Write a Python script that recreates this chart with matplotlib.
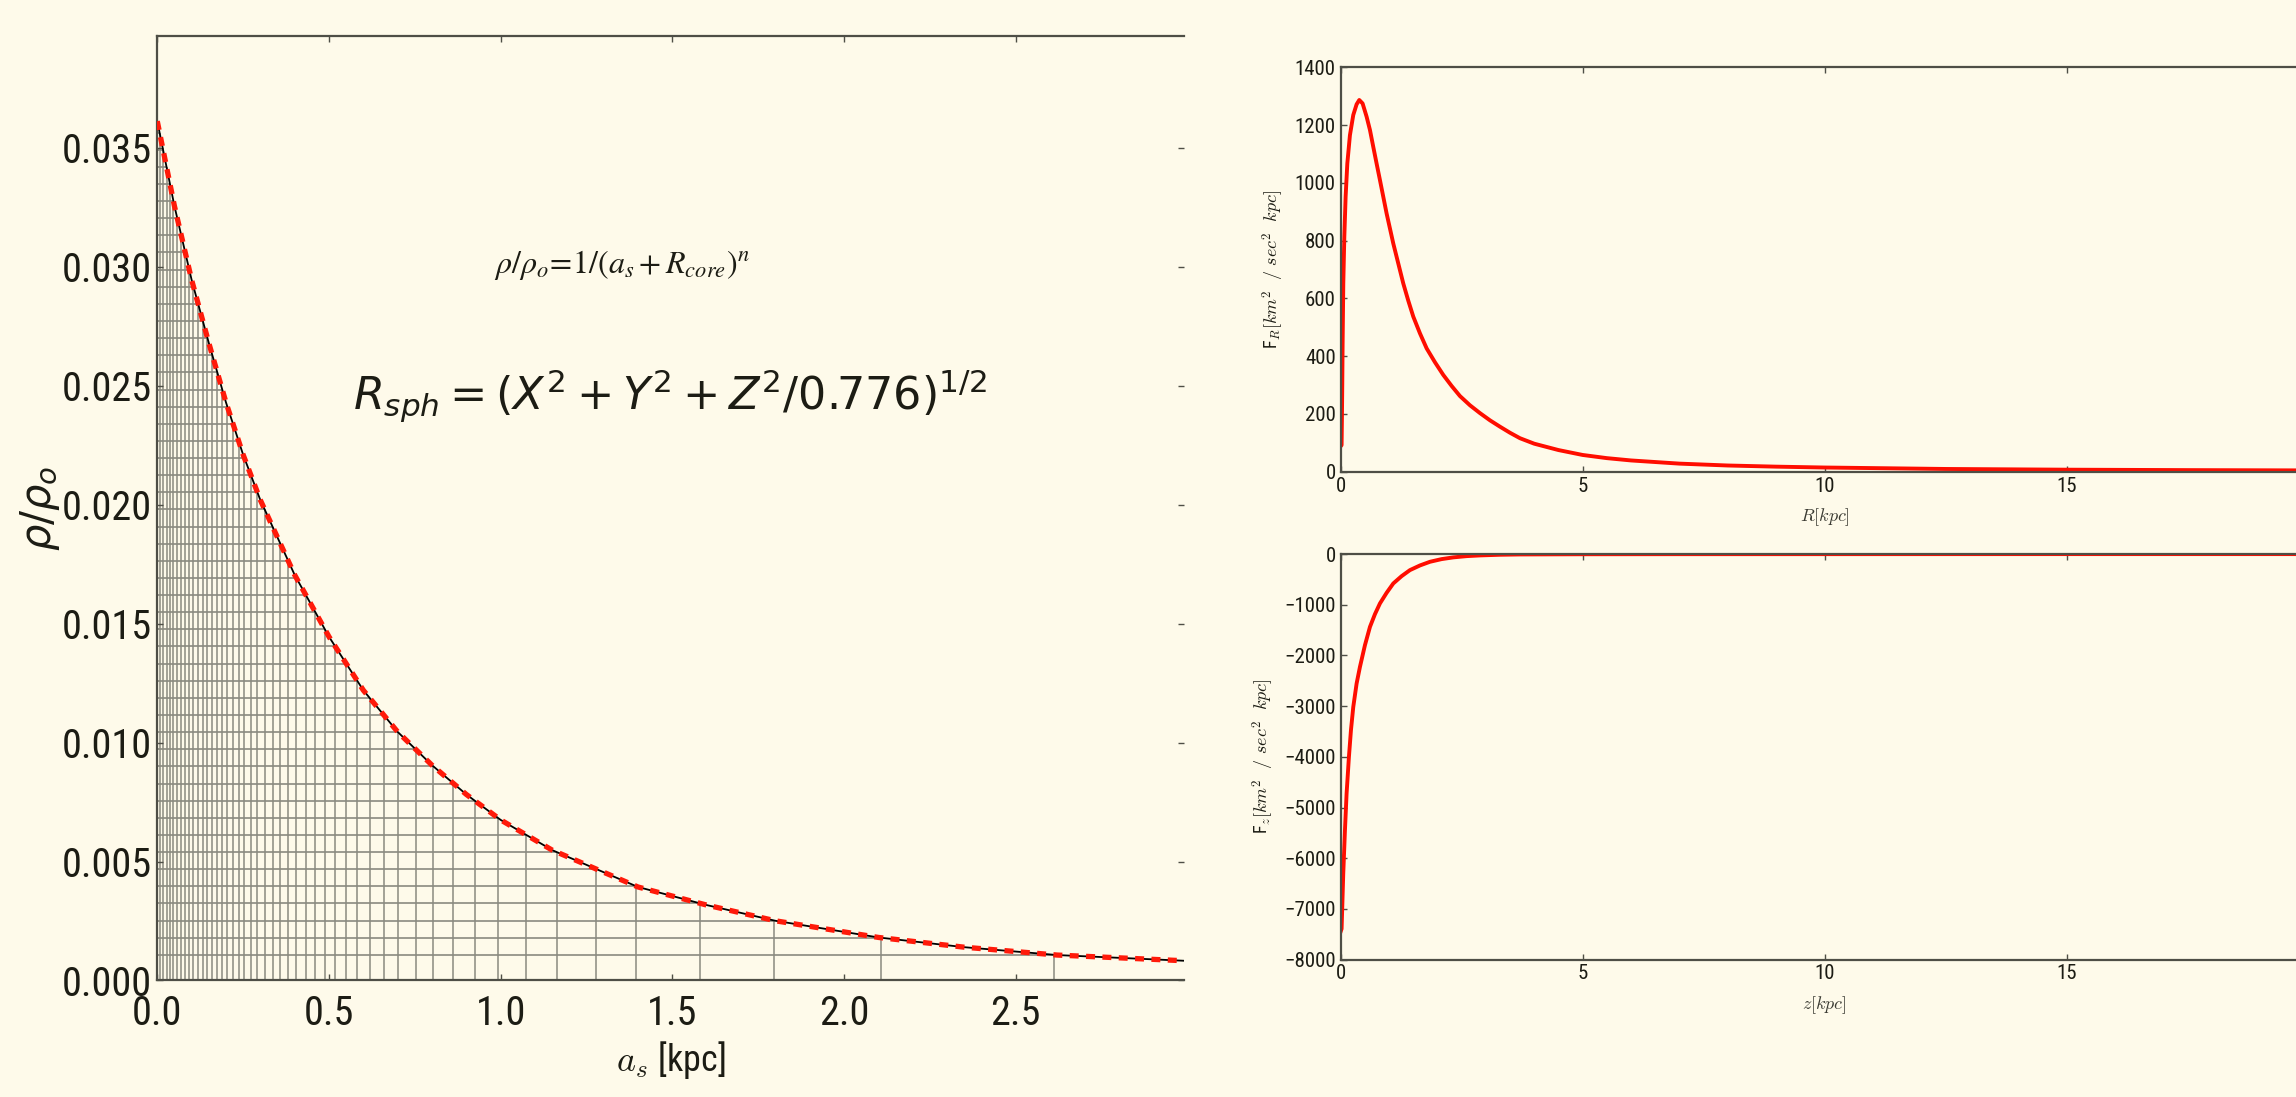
import numpy as np
import matplotlib
matplotlib.use("Agg")
import matplotlib.pyplot as plt
from matplotlib import font_manager as fm

# --- left panel: density profile ---
a_s = [0.00, 0.05, 0.10, 0.15, 0.20, 0.25, 0.30, 0.40, 0.50, 0.60, 0.70,
       0.80, 0.90, 1.00, 1.15, 1.40, 1.60, 1.80, 2.10, 2.35, 2.62, 2.99]
rho = [0.03612, 0.03255, 0.02945, 0.02680, 0.02430, 0.02210, 0.02020,
       0.01705, 0.01445, 0.01220, 0.01045, 0.00905, 0.00782, 0.00675,
       0.00548, 0.00393, 0.00317, 0.00251, 0.00181, 0.00140, 0.00107,
       0.00083]
rho_ticks = [0.000, 0.005, 0.010, 0.015, 0.020, 0.025, 0.030, 0.035]
a_ticks = [0.0, 0.5, 1.0, 1.5, 2.0, 2.5]

# --- right panels: forces ---
R_kpc = [0.0, 0.02, 0.027, 0.034, 0.041, 0.055, 0.076, 0.103, 0.138, 0.192,
         0.261, 0.33, 0.385, 0.454, 0.537, 0.606, 0.674, 0.743, 0.812, 0.881,
         0.95, 1.019, 1.088, 1.191, 1.294, 1.398, 1.501, 1.639, 1.777, 1.949,
         2.121, 2.293, 2.465, 2.672, 2.878, 3.085, 3.291, 3.498, 3.705, 4.0,
         4.5, 5.0, 5.5, 6.0, 7.0, 8.0, 9.0, 10.0, 12.5, 15.0, 17.5, 20.0]
F_R = [88, 92, 190, 306, 444, 652, 813, 952, 1067, 1165,
       1235, 1272, 1287, 1275, 1229, 1183, 1125, 1067, 1010, 952,
       894, 842, 790, 721, 652, 592, 537, 479, 427, 379,
       335, 297, 262, 230, 203, 178, 156, 135, 116, 97,
       75, 58, 47, 39, 28, 21.5, 17.5, 14.5, 9.5, 7, 5.5, 4.5]
z_kpc = [0.0, 0.02, 0.054, 0.089, 0.123, 0.171, 0.213, 0.261, 0.33, 0.399,
         0.502, 0.606, 0.709, 0.812, 0.95, 1.088, 1.26, 1.432, 1.639, 1.845,
         2.086, 2.327, 2.603, 2.878, 3.291, 3.705, 5.0, 7.0, 10.0, 15.0, 20.0]
F_z = [-7450, -7394, -6308, -5452, -4727, -4004, -3477, -3016, -2554, -2226,
       -1798, -1436, -1185, -974, -764, -579, -435, -316, -224, -152,
       -99, -65, -40, -26, -13, -7, -3, -1.5, -1, 0, 0]

BG = "#fefaea"
INK = "#1c1c14"
SPINE = "#4e4e46"
GRID = "#8a8a80"
RED = "#ff0d00"
RHO_STEP = 0.00072


def narrow_font():
    for name in ("Liberation Sans Narrow", "Roboto Condensed", "Open Sans Condensed"):
        try:
            fm.findfont(fm.FontProperties(family=name), fallback_to_default=False)
            return name, "normal"
        except ValueError:
            continue
    return "DejaVu Sans", "condensed"


NARROW, STRETCH = narrow_font()
plt.rcParams["font.family"] = [NARROW, "DejaVu Sans"]
plt.rcParams["font.stretch"] = STRETCH


def style_axes(ax, size):
    ax.set_facecolor(BG)
    for s in ax.spines.values():
        s.set_color(SPINE)
        s.set_linewidth(1.6)
    ax.tick_params(direction="in", top=True, right=True, length=4,
                   width=1, color=SPINE, labelsize=size, labelcolor=INK)


fig = plt.figure(figsize=(22.96, 10.97), dpi=100, facecolor=BG)

# ---------------- left panel ----------------
ax = fig.add_axes([0.0685, 0.1062, 0.4472, 0.861])
style_axes(ax, 29)
ax.spines["right"].set_visible(False)

# mesh under the curve: uniform density levels and where they meet the curve
a_arr = np.array(a_s)
r_arr = np.array(rho)
levels = np.arange(1.5, 80) * RHO_STEP
levels = levels[levels < r_arr[0]]
a_lev = np.interp(levels, r_arr[::-1], a_arr[::-1])
ax.hlines(levels, 0, a_lev, color=GRID, lw=1.2, zorder=1)
ax.vlines(a_lev, 0, levels, color=GRID, lw=1.1, zorder=1)

ax.plot(a_s, rho, color="black", lw=1.3, zorder=2)
ax.plot(a_s, rho, color="#ff1a0a", lw=3.8, ls=(0, (1.7, 1.4)), zorder=3)

ax.set_xlim(0, 2.99)
ax.set_ylim(0, 0.0397)
ax.set_xticks(a_ticks)
ax.set_xticklabels([f"{v:.1f}" for v in a_ticks])
ax.set_yticks(rho_ticks)
ax.set_yticklabels([f"{v:.3f}" for v in rho_ticks])
ax.tick_params(axis="x", pad=10)
ax.tick_params(axis="y", pad=4)

ax.set_xlabel(r"$a_s$ [kpc]", fontsize=26, color=INK, labelpad=4,
              math_fontfamily="cm")
ax.set_ylabel(r"$\rho/\rho_o$", fontsize=30, color=INK, labelpad=0,
              math_fontfamily="dejavusans")

ax.text(0.453, 0.758, r"$\rho/\rho_o\!=\!1/(a_s+R_{core})^n$",
        transform=ax.transAxes, ha="center", va="center", fontsize=23,
        color=INK, math_fontfamily="stix")
ax.text(0.499, 0.619, r"$R_{sph}=\left(X^2+Y^2+Z^2/0.776\right)^{1/2}$",
        transform=ax.transAxes, ha="center", va="center", fontsize=32,
        color=INK, math_fontfamily="dejavusans")

# ---------------- right top ----------------
ax1 = fig.add_axes([0.5839, 0.570, 0.4216, 0.3686])
style_axes(ax1, 15)
ax1.plot(R_kpc, F_R, color=RED, lw=2.8)
ax1.set_xlim(0, 20)
ax1.set_ylim(0, 1400)
ax1.set_xticks([0, 5, 10, 15])
ax1.set_yticks(range(0, 1401, 200))
ax1.set_xlabel(r"$R[kpc]$", fontsize=13, color="#3a3a32",
               math_fontfamily="cm", labelpad=8)
ax1.set_ylabel(r"F$_R[km^2\ \ /\ sec^2\ \ kpc]$", fontsize=13, color=INK,
               math_fontfamily="cm", labelpad=6)

# ---------------- right bottom ----------------
ax2 = fig.add_axes([0.5839, 0.1253, 0.4216, 0.3696])
style_axes(ax2, 15)
ax2.plot(z_kpc, F_z, color=RED, lw=2.8)
ax2.set_xlim(0, 20)
ax2.set_ylim(-8000, 0)
ax2.set_xticks([0, 5, 10, 15])
ax2.set_yticks(range(-8000, 1, 1000))
ax2.set_xlabel(r"$z[kpc]$", fontsize=13, color="#3a3a32",
               math_fontfamily="cm", labelpad=8)
ax2.set_ylabel(r"F$_z[km^2\ \ /\ sec^2\ \ kpc]$", fontsize=13, color=INK,
               math_fontfamily="cm", labelpad=6)

fig.savefig("out.png", dpi=100, facecolor=BG)
